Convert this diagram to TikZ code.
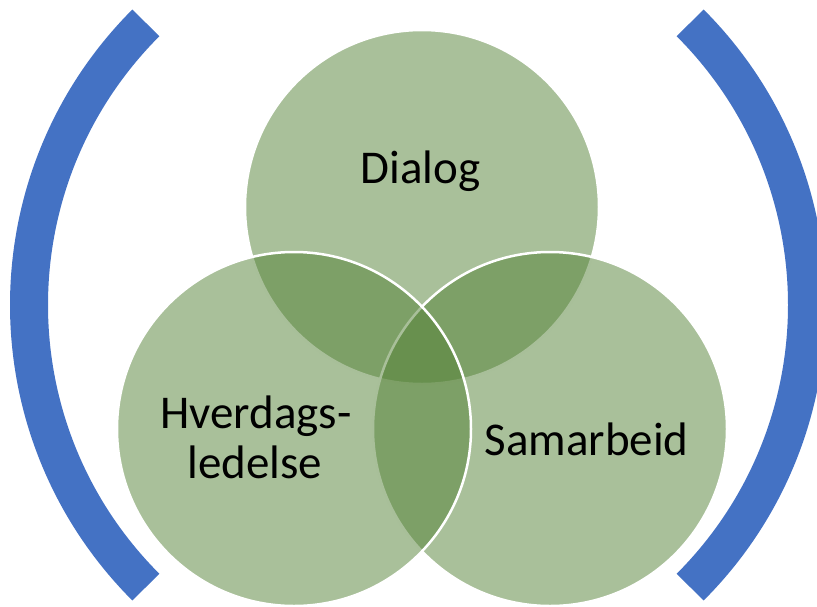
\documentclass[tikz,border=0pt]{standalone}
\usepackage{fontspec}
\setmainfont{Carlito}
\definecolor{venngreen}{HTML}{538135}
\definecolor{bracketblue}{HTML}{4472C4}
\tikzset{
  venn/.style={fill=venngreen, fill opacity=0.5, draw=white, draw opacity=1, line width=2.5pt},
  bracket/.style={draw=bracketblue, line width=38pt, line cap=butt},
  label/.style={anchor=base, inner sep=0pt, text=black, font=\fontsize{47}{50}\selectfont}
}
\begin{document}
\begin{tikzpicture}[x=1pt, y=-1pt]
\useasboundingbox (0,0) rectangle (817,606);
\coordinate (lc) at (428,305);
\coordinate (rc) at (408,305);
\draw[bracket] (lc) ++(225:399) arc[start angle=225, end angle=135, radius=399];
\draw[bracket] (rc) ++(-45:399) arc[start angle=-45, end angle=45, radius=399];
\path[venn] (422,207) circle[radius=177];
\path[venn] (550,429) circle[radius=177];
\path[venn] (294,429) circle[radius=177];
\node[label] (dialog) at (420.5,183) {Dialog};
\node[label] (hv1) at (256,428) {Hverdags-};
\node[label] (hv2) at (255,478) {ledelse};
\node[label] (sam) at (586.5,455) {Samarbeid};
\end{tikzpicture}
\end{document}
